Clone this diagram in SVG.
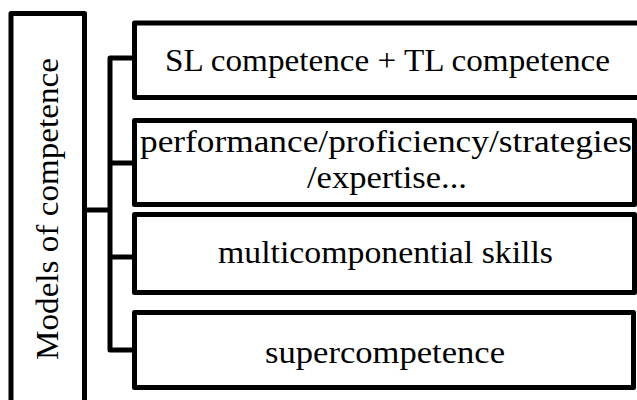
<svg xmlns="http://www.w3.org/2000/svg" width="637" height="400" viewBox="0 0 637 400">
  <style>
    .box { fill: #ffffff; stroke: #000000; stroke-width: 5; stroke-linejoin: round; }
    .wire { fill: none; stroke: #000000; stroke-width: 5; stroke-linejoin: round; }
    .label { font-family: "Liberation Serif", "Times New Roman", serif; font-size: 31px; fill: #000000; text-anchor: middle; }
  </style>
  <rect width="637" height="400" fill="#ffffff"/>

  <!-- bracket connectors from the root box to each model -->
  <g id="connectors">
    <path class="wire" d="M84.5 210 H110"/>
    <path class="wire" d="M134.5 58 H110 V350 H134.5"/>
    <path class="wire" d="M110 163 H134.5"/>
    <path class="wire" d="M110 257 H134.5"/>
  </g>

  <g id="root">
    <rect class="box" x="11" y="13.5" width="73.5" height="400"/>
    <text class="label" transform="translate(58 209) rotate(-90)" textLength="302" lengthAdjust="spacingAndGlyphs">Models of competence</text>
  </g>

  <g id="node-sl-tl">
    <rect class="box" x="134.5" y="23" width="510" height="74.5"/>
    <text class="label" x="387.5" y="71" textLength="445" lengthAdjust="spacingAndGlyphs">SL competence + TL competence</text>
  </g>

  <g id="node-performance">
    <rect class="box" x="134.5" y="120.5" width="500" height="84"/>
    <text class="label" x="386" y="152" textLength="492" lengthAdjust="spacingAndGlyphs">performance/proficiency/strategies</text>
    <text class="label" x="387" y="188" textLength="160" lengthAdjust="spacingAndGlyphs">/expertise...</text>
  </g>

  <g id="node-multicomponential">
    <rect class="box" x="134.5" y="214.5" width="500" height="78"/>
    <text class="label" x="385.5" y="263" textLength="335" lengthAdjust="spacingAndGlyphs">multicomponential skills</text>
  </g>

  <g id="node-supercompetence">
    <rect class="box" x="134.5" y="312.5" width="499" height="75"/>
    <text class="label" x="385" y="363" textLength="240" lengthAdjust="spacingAndGlyphs">supercompetence</text>
  </g>
</svg>
